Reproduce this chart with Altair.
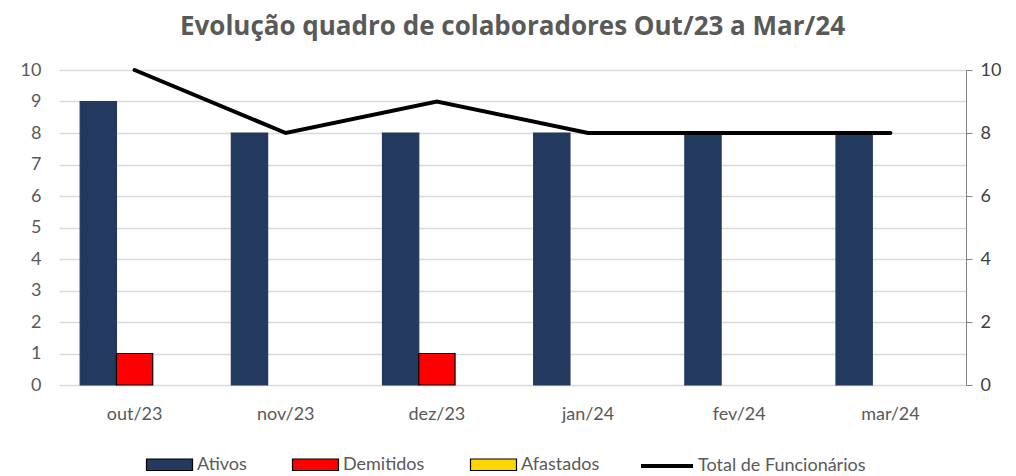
import altair as alt
import pandas as pd

meses = ["out/23", "nov/23", "dez/23", "jan/24", "fev/24", "mar/24"]
ativos = [9, 8, 8, 8, 8, 8]
demitidos = [1, 0, 1, 0, 0, 0]
afastados = [0, 0, 0, 0, 0, 0]
total = [10, 8, 9, 8, 8, 8]

series = ["Ativos", "Demitidos", "Afastados"]
cores = ["#233A5E", "#FF0000", "#FFD700"]

rows = []
for i, m in enumerate(meses):
    for s, vals in zip(series, [ativos, demitidos, afastados]):
        rows.append({"mes": m, "serie": s, "valor": vals[i]})
bars_df = pd.DataFrame(rows)
line_df = pd.DataFrame({"mes": meses, "total": total, "nome": ["Total de Funcionários"] * len(meses)})

FONT = "Lato"
GRAY = "#595959"
FS = 18

x_enc = alt.X(
    "mes:N", sort=meses,
    scale=alt.Scale(paddingInner=0.28, paddingOuter=0.14),
    axis=alt.Axis(title=None, labelAngle=0, domain=False, ticks=False, labelPadding=20,
                  labelFontSize=FS, labelColor=GRAY, labelFont=FONT),
)

bars = alt.Chart(bars_df).transform_filter("datum.valor > 0").mark_bar(strokeWidth=1.2).encode(
    x=x_enc,
    xOffset=alt.XOffset("serie:N", sort=series, scale=alt.Scale(domain=series, paddingInner=0, paddingOuter=0)),
    y=alt.Y("valor:Q", scale=alt.Scale(domain=[0, 10], nice=False),
            axis=alt.Axis(title=None, values=list(range(11)), domain=False, ticks=False,
                          gridColor="#D9D9D9", gridWidth=1.5, labelPadding=18, labelFontSize=FS,
                          labelColor=GRAY, labelFont=FONT)),
    color=alt.Color("serie:N", scale=alt.Scale(domain=series, range=cores),
                    legend=alt.Legend(title=None, orient="none", direction="horizontal",
                                      legendX=98, legendY=382,
                                      symbolType="M-2,-0.5H2V0.5H-2Z", symbolSize=529,
                                      symbolStrokeColor="black", symbolStrokeWidth=1.2,
                                      symbolOpacity=1,
                                      labelFontSize=FS, labelColor=GRAY, labelFont=FONT,
                                      columnPadding=43, labelOffset=15, labelLimit=300)),
    stroke=alt.condition("datum.serie == 'Ativos'", alt.value("#233A5E"), alt.value("black")),
)

line = alt.Chart(line_df).mark_line(strokeWidth=4, strokeCap="round").encode(
    x=x_enc,
    y=alt.Y("total:Q", scale=alt.Scale(domain=[0, 10], nice=False),
            axis=alt.Axis(title=None, orient="right", values=[0, 2, 4, 6, 8, 10], grid=False,
                          domain=True, domainColor="#808080", ticks=True, tickColor="#808080",
                          tickSize=6, labelPadding=8, labelFontSize=FS, labelColor="#404040",
                          labelFont=FONT)),
    stroke=alt.Stroke("nome:N", scale=alt.Scale(domain=["Total de Funcionários"], range=["black"]),
                      legend=alt.Legend(title=None, orient="none", direction="horizontal",
                                        legendX=593, legendY=381, symbolType="M-2,0H2",
                                        symbolSize=676, symbolStrokeWidth=4,
                                        labelFontSize=FS, labelColor=GRAY, labelFont=FONT,
                                        labelOffset=16, labelLimit=300)),
)

chart = alt.layer(bars, line).resolve_scale(y="independent").properties(
    width=907, height=315,
    title=alt.TitleParams("Evolução quadro de colaboradores Out/23 a Mar/24", fontSize=26,
                          font="Open Sans", fontWeight="bold", color=GRAY, anchor="middle", offset=21),
    padding={"left": 12, "top": 6, "right": 5, "bottom": 0},
).configure_view(stroke=None)

chart.save("out.html", embed_options={"renderer": "svg", "actions": False})
